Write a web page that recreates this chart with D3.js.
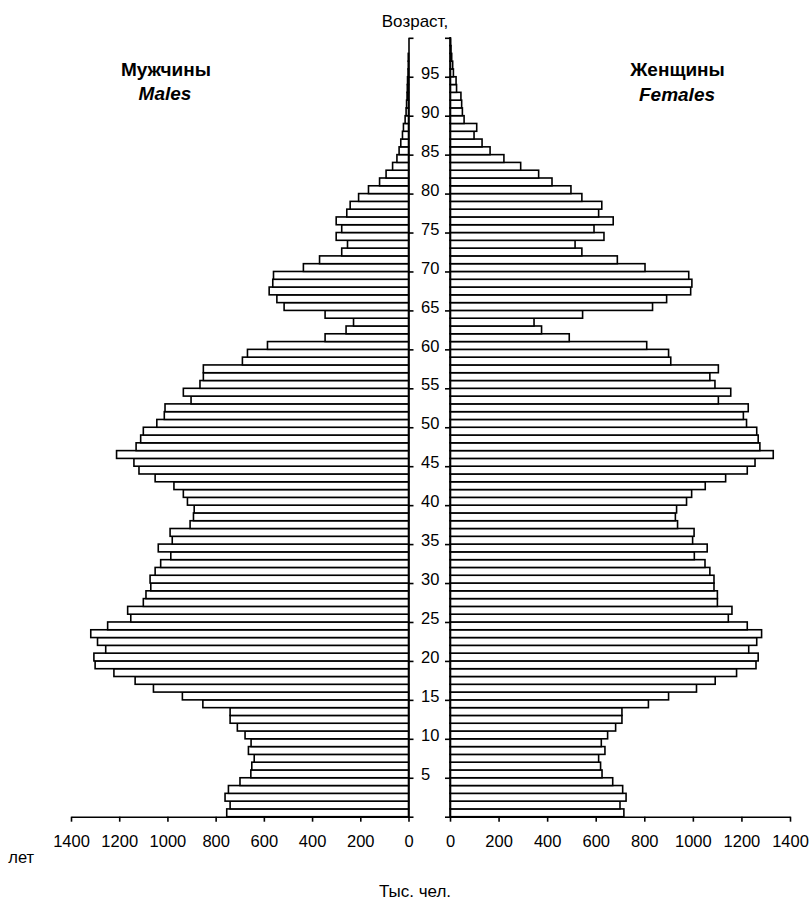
<!DOCTYPE html>
<html>
<head>
<meta charset="utf-8">
<script src="https://cdn.jsdelivr.net/npm/d3@7"></script>
<style>
  html, body { margin: 0; padding: 0; background: #fff; }
  svg { display: block; font-family: "Liberation Sans", Arial, sans-serif; }
</style>
</head>
<body>
<svg id="chart" width="812" height="904"></svg>
<script>
// Single-year ages 0..99
const ages = d3.range(0, 100);

// Males, thousand persons (age 0 .. 99)
const males = [
  754, 740, 761, 747, 699, 654, 650, 640, 664, 653,
  678, 710, 740, 740, 853, 938, 1058, 1134, 1222, 1300,
  1305, 1256, 1290, 1318, 1248, 1152, 1165, 1100, 1089, 1069,
  1072, 1051, 1028, 986, 1038, 980, 989, 906, 892, 889,
  917, 934, 973, 1051, 1118, 1139, 1211, 1130, 1111, 1100,
  1044, 1013, 1010, 902, 934, 865, 851, 851, 689, 668,
  585, 346, 259, 228, 346, 516, 546, 578, 563, 560,
  436, 369, 277, 253, 300, 277, 300, 256, 242, 207,
  166, 120, 93, 66, 48, 39, 32, 25, 21, 14,
  10, 8, 6, 5, 4, 2, 1, 1, 0, 0
];

// Females, thousand persons (age 0 .. 99)
const females = [
  716, 700, 725, 711, 670, 626, 620, 612, 638, 623,
  649, 682, 708, 708, 817, 900, 1015, 1092, 1180, 1260,
  1269, 1230, 1263, 1283, 1224, 1146, 1161, 1101, 1101, 1087,
  1087, 1070, 1050, 1006, 1059, 999, 1005, 937, 928, 933,
  974, 995, 1051, 1135, 1224, 1256, 1331, 1276, 1269, 1263,
  1221, 1208, 1228, 1105, 1156, 1091, 1070, 1105, 909, 900,
  810, 491, 377, 346, 546, 834, 892, 991, 996, 983,
  803, 689, 543, 515, 634, 593, 672, 612, 625, 543,
  498, 420, 365, 291, 222, 165, 132, 99, 110, 58,
  51, 48, 45, 27, 25, 14, 11, 7, 4, 2
];

const ageTicks = [0, 5, 10, 15, 20, 25, 30, 35, 40, 45, 50, 55, 60, 65, 70, 75, 80, 85, 90, 95, 100];
const valueTicks = [0, 200, 400, 600, 800, 1000, 1200, 1400];

const svg = d3.select("#chart");

const y = d3.scaleLinear().domain([0, 100]).range([816.7, 37.8]);
const xL = d3.scaleLinear().domain([0, 1400]).range([408.5, 71]);
const xR = d3.scaleLinear().domain([0, 1400]).range([450, 790]);

const STROKE = 1.6;
const FONT = "'Liberation Sans', Arial, sans-serif";

// Bars
svg.append("g").selectAll("rect").data(ages).join("rect")
  .attr("x", a => xL(males[a]))
  .attr("y", a => y(a + 1))
  .attr("width", a => xL(0) - xL(males[a]))
  .attr("height", a => y(a) - y(a + 1))
  .attr("fill", "#fff").attr("stroke", "#000").attr("stroke-width", STROKE);

svg.append("g").selectAll("rect").data(ages).join("rect")
  .attr("x", xR(0))
  .attr("y", a => y(a + 1))
  .attr("width", a => xR(females[a]) - xR(0))
  .attr("height", a => y(a) - y(a + 1))
  .attr("fill", "#fff").attr("stroke", "#000").attr("stroke-width", STROKE);

function styleAxis(g) {
  g.selectAll("path, line").attr("stroke", "#000").attr("stroke-width", STROKE);
  g.selectAll("text").attr("fill", "#000").attr("font-family", FONT);
}

// Left vertical axis with age labels
svg.append("g")
  .attr("transform", `translate(${xL(0)},0)`)
  .call(d3.axisRight(y).tickValues(ageTicks).tickSize(5).tickSizeOuter(0).tickPadding(7.5)
    .tickFormat(d => (d === 0 || d === 100) ? "" : d3.format("d")(d)))
  .call(g => g.selectAll("text").attr("font-size", 16.5).attr("dy", "0.1em"))
  .call(styleAxis);

// Right vertical axis
svg.append("g")
  .attr("transform", `translate(${xR(0)},0)`)
  .call(d3.axisLeft(y).tickValues(ageTicks).tickSize(5).tickSizeOuter(0).tickFormat(""))
  .call(styleAxis);

// Bottom axes
svg.append("g")
  .attr("transform", `translate(0,${y(0)})`)
  .call(d3.axisBottom(xL).tickValues(valueTicks).tickSize(5).tickSizeOuter(0).tickPadding(13.3)
    .tickFormat(d3.format("d")))
  .call(g => g.selectAll("text").attr("font-size", 16.5))
  .call(styleAxis);

svg.append("g")
  .attr("transform", `translate(0,${y(0)})`)
  .call(d3.axisBottom(xR).tickValues(valueTicks).tickSize(5).tickSizeOuter(0).tickPadding(13.3)
    .tickFormat(d3.format("d")))
  .call(g => g.selectAll("text").attr("font-size", 16.5))
  .call(styleAxis);

// Texts
svg.append("text").attr("x", 415).attr("y", 26.7).attr("text-anchor", "middle")
  .attr("font-size", 17).attr("font-family", FONT).text("Возраст,");
svg.append("text").attr("x", 8.3).attr("y", 863.3).attr("text-anchor", "start")
  .attr("font-size", 16.5).attr("font-family", FONT).text("лет");
svg.append("text").attr("x", 415).attr("y", 897).attr("text-anchor", "middle")
  .attr("font-size", 17).attr("font-family", FONT).text("Тыс. чел.");

svg.append("text").attr("x", 166).attr("y", 75.5).attr("text-anchor", "middle")
  .attr("font-size", 19).attr("font-weight", "bold").attr("font-family", FONT).text("Мужчины");
svg.append("text").attr("x", 165).attr("y", 100.3).attr("text-anchor", "middle")
  .attr("font-size", 19).attr("font-weight", "bold").attr("font-style", "italic").attr("font-family", FONT).text("Males");
svg.append("text").attr("x", 677.5).attr("y", 76).attr("text-anchor", "middle")
  .attr("font-size", 19).attr("font-weight", "bold").attr("font-family", FONT).text("Женщины");
svg.append("text").attr("x", 677).attr("y", 100.8).attr("text-anchor", "middle")
  .attr("font-size", 19).attr("font-weight", "bold").attr("font-style", "italic").attr("font-family", FONT).text("Females");
</script>
</body>
</html>
